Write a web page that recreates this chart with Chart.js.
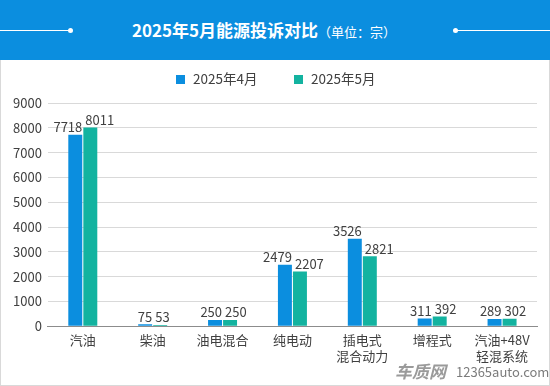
<!DOCTYPE html>
<html>
<head>
<meta charset="utf-8">
<script src="https://cdn.jsdelivr.net/npm/chart.js@4"></script>
<style>
  body { margin: 0; width: 550px; height: 386px; background: #fff; overflow: hidden; font-family: "Noto Sans CJK SC", "Noto Sans", sans-serif; }
  #header { position: absolute; left: 0; top: 0; width: 550px; height: 60px; background: #0b8edf; }
  #header .title { position: absolute; left: 0; width: 528px; top: 17px; text-align: center; color: #fff; font-size: 17px; font-weight: bold; }
  #header .title span { font-size: 13px; font-weight: normal; }
  .line { position: absolute; top: 30px; height: 1px; background: #fff; }
  .dot { position: absolute; top: 28px; width: 5px; height: 5px; border-radius: 50%; background: #fff; }
  #box { position: absolute; left: 0; top: 60px; width: 548px; height: 325px; border: 1px solid #d9d9d9; border-top: none; }
  #wrap { position: absolute; left: 0; top: 60px; width: 550px; height: 326px; }
  .legend-item { position: absolute; top: 68px; height: 20px; line-height: 20px; font-size: 13.5px; color: #404040; white-space: nowrap; }
  .legend-item i { display: inline-block; width: 9px; height: 9px; margin-right: 8px; vertical-align: 0px; }
</style>
</head>
<body>
<div id="header">
  <div class="line" style="left:0;width:70px"></div>
  <div class="dot" style="left:68px"></div>
  <div class="line" style="left:455px;width:95px"></div>
  <div class="dot" style="left:453px"></div>
  <div class="title">2025年5月能源投诉对比<span>（单位：宗）</span></div>
</div>
<div id="box"></div>
<div id="wrap"><canvas id="chart" width="550" height="326"></canvas></div>
<div id="legend"></div>
<script>
// Data
const categories = ['汽油', '柴油', '油电混合', '纯电动', ['插电式', '混合动力'], '增程式', ['汽油+48V', '轻混系统']];
const april = [7718, 75, 250, 2479, 3526, 311, 289];
const may = [8011, 53, 250, 2207, 2821, 392, 302];
const seriesNames = ['2025年4月', '2025年5月'];
const yTicks = [0, 1000, 2000, 3000, 4000, 5000, 6000, 7000, 8000, 9000];

const BLUE = '#0b8edf';
const TEAL = '#13b3a0';
const colors = [BLUE, TEAL];
const FONT = '"Noto Sans CJK SC", "Noto Sans", sans-serif';

// value labels above bars: April right-aligned, May left-aligned
const valueLabels = {
  id: 'valueLabels',
  afterDatasetsDraw(chart) {
    const ctx = chart.ctx;
    ctx.save();
    ctx.font = '13px ' + FONT;
    ctx.fillStyle = '#404040';
    ctx.textBaseline = 'bottom';
    chart.data.datasets.forEach((ds, i) => {
      chart.getDatasetMeta(i).data.forEach((bar, j) => {
        const half = bar.width / 2;
        if (i === 0) {
          ctx.textAlign = 'right';
          ctx.fillText(ds.data[j], bar.x + half, bar.y - 1);
        } else {
          ctx.textAlign = 'left';
          ctx.fillText(ds.data[j], bar.x - half + 2, bar.y - 1);
        }
      });
    });
    ctx.restore();
  }
};

// watermark bottom right
const watermark = {
  id: 'watermark',
  afterDraw(chart) {
    const ctx = chart.ctx;
    ctx.save();
    ctx.textBaseline = 'alphabetic';
    ctx.textAlign = 'left';
    ctx.font = 'bold italic 17px ' + FONT;
    ctx.fillStyle = 'rgba(120,120,120,0.75)';
    ctx.fillText('车质网', 395, 318);
    ctx.font = '13px ' + FONT;
    ctx.fillStyle = 'rgba(90,90,90,0.8)';
    ctx.fillText('12365auto.com', 456, 317);
    ctx.restore();
  }
};

// legend in HTML so the item spacing matches
const legendX = [176, 294];
document.getElementById('legend').innerHTML = seriesNames.map((name, i) =>
  `<div class="legend-item" style="left:${legendX[i]}px"><i style="background:${colors[i]}"></i>${name}</div>`
).join('');

new Chart(document.getElementById('chart'), {
  type: 'bar',
  data: {
    labels: categories,
    datasets: [
      { label: seriesNames[0], data: april, backgroundColor: BLUE },
      { label: seriesNames[1], data: may, backgroundColor: TEAL }
    ]
  },
  options: {
    responsive: false,
    animation: false,
    devicePixelRatio: 1,
    categoryPercentage: 0.43,
    barPercentage: 0.93,
    layout: { padding: { left: 7, right: 13, top: 43, bottom: 16 } },
    plugins: {
      legend: { display: false },
      title: { display: false },
      tooltip: { enabled: false }
    },
    scales: {
      x: {
        grid: { display: false, drawTicks: false },
        border: { color: '#8c8c8c' },
        ticks: { color: '#404040', font: { family: FONT, size: 13, lineHeight: 1.3 }, maxRotation: 0, padding: 5 }
      },
      y: {
        min: 0, max: 9000,
        afterBuildTicks(axis) { axis.ticks = yTicks.map(v => ({ value: v })); },
        grid: { color: '#d9d9d9', drawTicks: false },
        border: { display: false },
        ticks: { color: '#404040', font: { family: FONT, size: 13 }, padding: 6, callback: v => String(v) }
      }
    }
  },
  plugins: [valueLabels, watermark]
});
</script>
</body>
</html>
